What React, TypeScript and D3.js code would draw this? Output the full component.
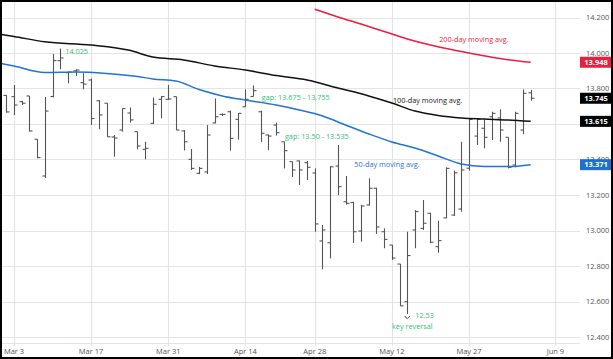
import React from 'react';
import * as d3 from 'd3';

const W = 613;
const H = 359;

// trading-day index of first bar (Feb 28 = -1, Mar 3 = 0)
const firstIndex = -1;
const opens = [13.761, 13.754, 13.726, 13.758, 13.514, 13.307, 13.755, 13.957, 13.889, 13.900, 13.833, 13.848, 13.731, 13.717, 13.527, 13.566, 13.662, 13.557, 13.457, 13.604, 13.739, 13.739, 13.754, 13.561, 13.401, 13.322, 13.330, 13.606, 13.654, 13.669, 13.626, 13.697, 13.755, 13.669, 13.538, 13.594, 13.500, 13.388, 13.392, 13.382, 13.324, 12.941, 12.931, 13.363, 13.162, 13.158, 12.997, 13.144, 13.238, 12.993, 12.918, 12.811, 12.599, 13.003, 13.012, 13.097, 12.909, 13.071, 13.087, 13.121, 13.351, 13.532, 13.576, 13.641, 13.634, 13.525, 13.369, 13.566, 13.776];
const highs = [13.763, 13.820, 13.731, 13.758, 13.514, 13.752, 13.994, 14.025, 13.895, 13.908, 13.886, 13.857, 13.735, 13.717, 13.538, 13.688, 13.693, 13.557, 13.500, 13.749, 13.758, 13.820, 13.754, 13.566, 13.459, 13.358, 13.594, 13.744, 13.659, 13.676, 13.662, 13.795, 13.817, 13.675, 13.541, 13.607, 13.500, 13.388, 13.394, 13.392, 13.350, 13.031, 13.363, 13.482, 13.307, 13.162, 13.144, 13.294, 13.241, 13.012, 12.918, 12.811, 12.993, 13.115, 13.172, 13.099, 13.055, 13.356, 13.337, 13.500, 13.632, 13.632, 13.626, 13.669, 13.683, 13.525, 13.669, 13.795, 13.792];
const lows = [13.664, 13.651, 13.707, 13.557, 13.407, 13.296, 13.750, 13.908, 13.829, 13.870, 13.795, 13.594, 13.570, 13.528, 13.416, 13.557, 13.608, 13.457, 13.401, 13.600, 13.632, 13.735, 13.566, 13.451, 13.341, 13.318, 13.318, 13.604, 13.645, 13.450, 13.512, 13.697, 13.755, 13.499, 13.453, 13.535, 13.350, 13.301, 13.256, 13.284, 12.993, 12.781, 12.843, 13.200, 13.146, 12.930, 12.937, 13.141, 12.980, 12.900, 12.834, 12.575, 12.530, 12.900, 13.003, 12.928, 12.875, 13.069, 13.082, 13.106, 13.337, 13.482, 13.463, 13.510, 13.500, 13.350, 13.356, 13.544, 13.731];
const closes = [13.668, 13.707, 13.717, 13.561, 13.411, 13.673, 13.957, 13.972, 13.893, 13.904, 13.825, 13.631, 13.651, 13.528, 13.521, 13.687, 13.623, 13.476, 13.463, 13.711, 13.754, 13.741, 13.566, 13.500, 13.350, 13.350, 13.538, 13.641, 13.654, 13.519, 13.660, 13.739, 13.788, 13.548, 13.532, 13.551, 13.450, 13.341, 13.341, 13.356, 13.037, 13.003, 13.359, 13.247, 13.153, 12.993, 13.138, 13.238, 13.020, 12.950, 12.845, 12.575, 12.859, 13.107, 13.041, 12.934, 12.943, 13.350, 13.325, 13.341, 13.626, 13.626, 13.525, 13.660, 13.566, 13.356, 13.660, 13.773, 13.745];

const ma50Index = [-2, 0, 4, 8, 12, 16, 18, 21, 24, 27, 30, 34, 37, 40, 43, 46, 49, 52, 55, 58, 61, 64, 67];
const ma50Values = [13.944, 13.927, 13.890, 13.893, 13.885, 13.868, 13.854, 13.842, 13.794, 13.758, 13.735, 13.707, 13.679, 13.645, 13.594, 13.544, 13.499, 13.465, 13.420, 13.375, 13.361, 13.360, 13.371];
const ma100Index = [-2, 0, 4, 10, 15, 18, 22, 26, 30, 34, 38, 42, 46, 49, 52, 55, 58, 61, 64, 67];
const ma100Values = [14.107, 14.093, 14.063, 14.045, 14.015, 13.977, 13.961, 13.927, 13.904, 13.873, 13.848, 13.803, 13.758, 13.718, 13.673, 13.648, 13.634, 13.628, 13.623, 13.615];
const ma200Index = [39, 42, 45, 48, 51, 54, 57, 60, 63, 67];
const ma200Values = [14.246, 14.203, 14.163, 14.121, 14.079, 14.045, 14.017, 13.992, 13.969, 13.948];

const xTickIndex = [0, 10, 20, 30, 39, 49, 59, 70.2];
const xTickLabels = ['Mar 3', 'Mar 17', 'Mar 31', 'Apr 14', 'Apr 28', 'May 12', 'May 27', 'Jun 9'];
const yTicks = [12.4, 12.6, 12.8, 13.0, 13.2, 13.4, 13.6, 13.8, 14.0, 14.2];

const lastValueLabels = [13.948, 13.745, 13.615, 13.371];
const lastValueColors = ['#ee1c3e', '#000000', '#000000', '#1d6fd0'];

const RED = '#ee1c3e';
const BLUE = '#1f74d6';
const GREEN = '#2fc46f';
const BAR = '#555555';
const GRID = '#e4e4e4';
const FONT = '"Open Sans", "Noto Sans", sans-serif';
const ANN = 7.3;

export default function App() {
  const x = d3.scaleLinear().domain([0, 59]).range([14, 469]);
  const y = d3.scaleLinear().domain([12.4, 14.2]).range([337, 17.5]);
  const plotRight = 580;
  const axisY = 343;

  const line = (idx: number[], vals: number[]) =>
    d3.line<number>()
      .x((_, i) => x(idx[i]))
      .y((v) => y(v))
      .curve(d3.curveMonotoneX)(vals) || '';

  const bars = opens.map((o, k) => {
    const i = firstIndex + k;
    const cx = Math.round(x(i)) + 0.5;
    return (
      <g key={k} stroke={BAR} strokeWidth={1.1}>
        <line x1={cx} x2={cx} y1={y(highs[k])} y2={y(lows[k])} />
        <line x1={cx - 3} x2={cx} y1={y(o)} y2={y(o)} />
        <line x1={cx} x2={cx + 3} y1={y(closes[k])} y2={y(closes[k])} />
      </g>
    );
  });

  return (
    <svg width={W} height={H} style={{ position: 'absolute', left: 0, top: 0, background: '#fff' }} fontFamily={FONT}>
      <defs>
        <clipPath id="plot">
          <rect x={1} y={1} width={plotRight - 1} height={axisY - 1} />
        </clipPath>
      </defs>
      <rect x={0} y={0} width={W} height={H} fill="#fff" />
      {/* grid */}
      {yTicks.map((t) => (
        <line key={t} x1={1} x2={plotRight} y1={Math.round(y(t)) + 0.5} y2={Math.round(y(t)) + 0.5} stroke={GRID} strokeWidth={1.2} />
      ))}
      {xTickIndex.map((t) => (
        <line key={t} x1={Math.round(x(t)) + 0.5} x2={Math.round(x(t)) + 0.5} y1={1} y2={axisY + 3} stroke={GRID} strokeWidth={1.2} />
      ))}
      <line x1={1} x2={plotRight} y1={axisY + 0.5} y2={axisY + 0.5} stroke={GRID} strokeWidth={1.2} />
      {/* x labels */}
      {xTickIndex.map((t, i) => (
        <text key={t} x={x(t)} y={354} textAnchor="middle" fontSize={7.5} fill="#555">{xTickLabels[i]}</text>
      ))}
      {/* y labels */}
      {yTicks.map((t) => (
        <text key={t} x={586} y={y(t) + 2.7} fontSize={7.5} fill="#555">{t.toFixed(3)}</text>
      ))}
      <g clipPath="url(#plot)">
        {bars}
        <path d={line(ma200Index, ma200Values)} fill="none" stroke={RED} strokeWidth={1.5} />
        <path d={line(ma100Index, ma100Values)} fill="none" stroke="#111" strokeWidth={1.5} />
        <path d={line(ma50Index, ma50Values)} fill="none" stroke={BLUE} strokeWidth={1.5} />
      </g>
      {/* annotations */}
      <text x={x(6) + 5} y={y(14.025) + 5.5} fontSize={ANN} fill={GREEN}>14.025</text>
      <text x={x(32) + 1} y={y(13.755) + 3.5} fontSize={ANN} fill={GREEN}>gap: 13.675 - 13.755</text>
      <text x={x(35) + 1} y={y(13.535) + 3} fontSize={ANN} fill={GREEN}>gap: 13.50 - 13.535</text>
      <text x={x(49) + 1} y={y(13.718) - 0.5} fontSize={ANN} fill="#222">100-day moving avg.</text>
      <text x={x(44) + 1} y={y(13.375) + 3} fontSize={ANN} fill={BLUE}>50-day moving avg.</text>
      <text x={x(55) + 1} y={y(14.12) + 10.5} fontSize={ANN} fill={RED}>200-day moving avg.</text>
      <text x={x(51) + 8} y={y(12.53) + 4} fontSize={ANN} fill={GREEN}>12.53</text>
      <text x={x(51) + 5} y={y(12.53) + 15} fontSize={ANN} fill={GREEN} textAnchor="middle">key reversal</text>
      <path d={`M${x(51) - 2.5},${y(12.53) + 2} Q${x(51)},${y(12.53) + 7} ${x(51) + 2.5},${y(12.53) + 2}`} fill="none" stroke={BAR} strokeWidth={1} />
      {/* last value boxes */}
      {lastValueLabels.map((v, i) => (
        <g key={i}>
          <rect x={580} y={y(v) - 5.5} width={32} height={11} fill={lastValueColors[i]} />
          <text x={596} y={y(v) + 2.8} fontSize={7.5} fontWeight="bold" fill="#fff" textAnchor="middle">{v.toFixed(3)}</text>
        </g>
      ))}
      <rect x={1} y={1} width={W - 2} height={H - 2} fill="none" stroke="#000" strokeWidth={2} />
    </svg>
  );
}
